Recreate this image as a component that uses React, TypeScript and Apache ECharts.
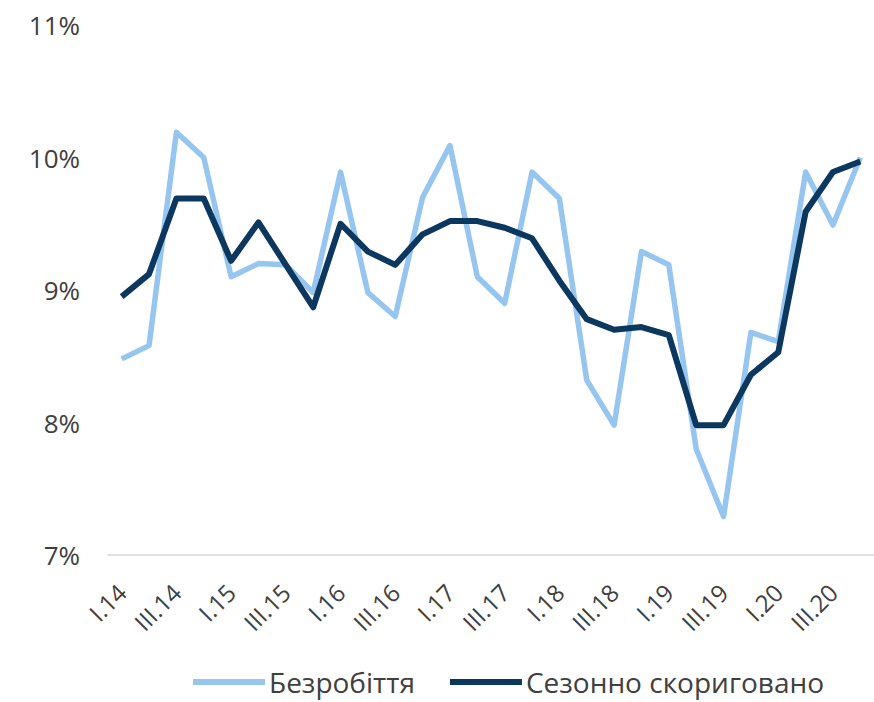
import React, { useEffect, useRef } from "react";
import * as echarts from "echarts";

// Quarterly labels, I.14 … IV.20
const years = ["14", "15", "16", "17", "18", "19", "20"];
const quarters = ["I", "II", "III", "IV"];
const categories: string[] = years.flatMap((y) => quarters.map((q) => `${q}.${y}`));

// Unemployment rate, %
const unemployment = [
  8.48, 8.58, 10.19, 10.0, 9.1, 9.2, 9.19, 8.98, 9.89, 8.98, 8.8, 9.7, 10.09, 9.1,
  8.9, 9.89, 9.69, 8.32, 7.98, 9.29, 9.19, 7.8, 7.29, 8.68, 8.61, 9.89, 9.49, 10.0,
];

// Seasonally adjusted rate, %
const seasonallyAdjusted = [
  8.95, 9.12, 9.69, 9.69, 9.22, 9.51, 9.19, 8.87, 9.5, 9.29, 9.19, 9.42, 9.52, 9.52,
  9.47, 9.39, 9.07, 8.78, 8.7, 8.72, 8.66, 7.98, 7.98, 8.36, 8.53, 9.59, 9.89, 9.97,
];

const seriesNames = ["Безробіття", "Сезонно скориговано"];
const yTicks = { min: 7, max: 11, step: 1 };

const FONT = "'Open Sans', 'Noto Sans', sans-serif";
const TEXT = "#404040";
const LIGHT = "#96C6EF";
const DARK = "#0C3860";

export default function App() {
  const ref = useRef<HTMLDivElement>(null);

  useEffect(() => {
    if (!ref.current) return;
    const chart = echarts.init(ref.current, undefined, { renderer: "svg" });
    chart.setOption({
      animation: false,
      backgroundColor: "#ffffff",
      textStyle: { fontFamily: FONT },
      grid: { left: 108, top: 25, width: 775, height: 530, containLabel: false },
      legend: {
        left: 193,
        top: 667,
        padding: 0,
        icon: "rect",
        itemWidth: 72,
        itemHeight: 6,
        itemGap: 35,
        textStyle: { fontFamily: FONT, fontSize: 28, color: TEXT, lineHeight: 30, padding: [0, 0, 0, -1] },
        data: seriesNames,
      },
      xAxis: {
        type: "category",
        data: categories,
        boundaryGap: true,
        axisLine: { show: true, lineStyle: { color: "#D9D9D9", width: 1.5 } },
        axisTick: { show: false },
        axisLabel: {
          interval: 1,
          rotate: 45,
          margin: 33,
          fontFamily: FONT,
          fontSize: 24,
          color: TEXT,
        },
      },
      yAxis: {
        type: "value",
        min: yTicks.min,
        max: yTicks.max,
        interval: yTicks.step,
        axisLine: { show: false },
        axisTick: { show: false },
        splitLine: { show: false },
        axisLabel: {
          margin: 28,
          fontFamily: FONT,
          fontSize: 26,
          color: TEXT,
          formatter: (v: number) => `${v}%`,
        },
      },
      series: [
        {
          name: seriesNames[0],
          type: "line",
          data: unemployment,
          showSymbol: false,
          symbol: "none",
          itemStyle: { color: LIGHT },
          lineStyle: { color: LIGHT, width: 5.5, join: "round" },
        },
        {
          name: seriesNames[1],
          type: "line",
          data: seasonallyAdjusted,
          showSymbol: false,
          symbol: "none",
          itemStyle: { color: DARK },
          lineStyle: { color: DARK, width: 6, join: "round" },
        },
      ],
    });
    return () => chart.dispose();
  }, []);

  return (
    <div
      ref={ref}
      style={{ position: "fixed", left: 0, top: 0, width: 874, height: 702, background: "#fff" }}
    />
  );
}
